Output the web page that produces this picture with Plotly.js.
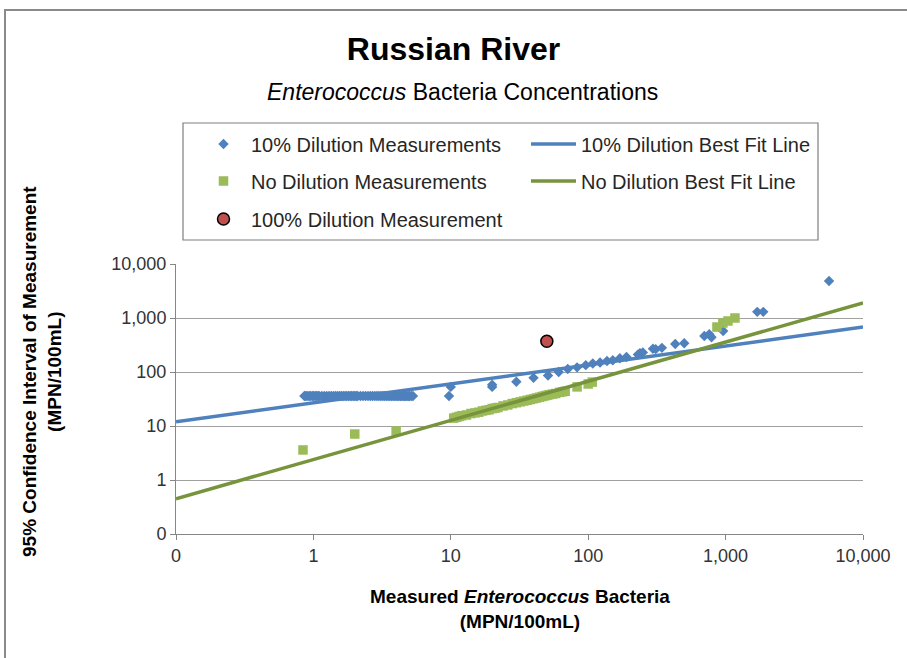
<!DOCTYPE html>
<html>
<head>
<meta charset="utf-8">
<script src="https://cdn.plot.ly/plotly-3.0.1.min.js"></script>
<style>
  html, body { margin: 0; padding: 0; background: #fff; }
  #wrap { position: relative; width: 907px; height: 658px; overflow: hidden; }
  #chart { position: absolute; left: 0; top: 0; width: 907px; height: 658px; }
  #frame { position: absolute; left: 4px; top: 9px; width: 920px; height: 680px;
           border-left: 2px solid #8a8a8a; border-top: 2px solid #8a8a8a; pointer-events: none; }
</style>
</head>
<body>
<div id="wrap"><div id="chart"></div><div id="frame"></div></div>
<script>
// ---- Data ----
const dil10X = [0.86, 0.88, 0.9, 0.93, 0.95, 0.98, 1, 1.03, 1.05, 1.08, 1.1, 1.15, 1.2, 1.25, 1.3, 1.35, 1.4, 1.45,
                1.5, 1.55, 1.6, 1.65, 1.7, 1.75, 1.8, 1.85, 1.9, 1.95, 2, 2.05, 2.1, 2.2, 2.3, 2.4, 2.5,
                2.6, 2.7, 2.8, 2.9, 3, 3.1, 3.2, 3.3, 3.4, 3.5, 3.6, 3.7, 3.8, 3.9, 4, 4.1, 4.2, 4.3,
                4.4, 4.5, 4.6, 4.7, 4.8, 4.9, 5, 5.15, 5.3,
                9.7, 10, 20, 20, 30, 40, 51, 61, 71, 83, 96, 108, 122, 137, 151, 170, 190, 230, 238, 250,
                296, 310, 344, 430, 500, 700, 760, 790, 960, 1700, 1880, 5660];
const dil10Y = [36, 36, 36, 36, 36, 36, 36, 36, 36, 36, 36, 36, 36, 36, 36, 36, 36, 36,
                36, 36, 36, 36, 36, 36, 36, 36, 36, 36, 36, 36, 36, 36, 36, 36, 36,
                36, 36, 36, 36, 36, 36, 36, 36, 36, 36, 36, 36, 36, 36, 36, 36, 36, 36,
                36, 36, 36, 36, 36, 36, 36, 36, 36,
                36, 53, 53, 58, 66, 78, 86, 100, 114, 122, 134, 144, 150, 160, 165, 180, 190, 210, 224, 230,
                270, 265, 280, 330, 340, 465, 500, 440, 575, 1300, 1300, 4840];

const noDilX = [0.84, 2, 4, 10.5, 11, 11.5, 12, 13, 14, 15, 16, 17, 18, 19, 20, 21, 22, 24, 26, 28, 30, 32, 34,
                36, 38, 40, 42, 44, 46, 48, 50, 52, 55, 58, 62, 65, 68, 83, 100, 107, 865, 955, 1040, 1170];
const noDilY = [3.6, 7.1, 8.1, 14, 14.5, 15, 15.5, 16, 17, 17.5, 18, 19, 19.5, 20, 21, 21.5, 22, 23.5, 24.5, 26,
                27, 28, 29, 30, 31, 32, 33, 34, 35, 36, 37, 38, 39, 40, 42, 43, 44, 53, 60, 65, 680, 808, 880, 1000];

const dil100X = [50];
const dil100Y = [370];

const fit10X = [0.1, 1, 10, 100, 1000, 10000];
const fit10Y = [12, 27, 60, 135, 300, 680];
const fitNoX = [0.1, 1, 10, 100, 1000, 10000];
const fitNoY = [0.45, 2.4, 12.6, 67, 355, 1900];

const tickVals = [0.1, 1, 10, 100, 1000, 10000];
const tickText = ['0', '1', '10', '100', '1,000', '10,000'];

const seriesNames = ['10% Dilution Measurements', '10% Dilution Best Fit Line',
                     'No Dilution Measurements', 'No Dilution Best Fit Line',
                     '100% Dilution Measurement'];

// ---- Styling ----
const FONT = 'Liberation Sans, Arial, sans-serif';
const blue = '#4F81BD', green = '#9BBB59', greenLine = '#77933C', red = '#C0504D';

const traces = [
  { x: dil10X, y: dil10Y, name: seriesNames[0], type: 'scatter', mode: 'markers',
    marker: { symbol: 'diamond', size: 8, color: blue }, legend: 'legend' },
  { x: fit10X, y: fit10Y, name: seriesNames[1], type: 'scatter', mode: 'lines',
    line: { color: blue, width: 3.5 }, legend: 'legend' },
  { x: noDilX, y: noDilY, name: seriesNames[2], type: 'scatter', mode: 'markers',
    marker: { symbol: 'square', size: 9.5, color: green }, legend: 'legend2' },
  { x: fitNoX, y: fitNoY, name: seriesNames[3], type: 'scatter', mode: 'lines',
    line: { color: greenLine, width: 3.5 }, legend: 'legend2' },
  { x: dil100X, y: dil100Y, name: seriesNames[4], type: 'scatter', mode: 'markers',
    marker: { symbol: 'circle', size: 12, color: red, line: { color: '#000', width: 1.5 } }, legend: 'legend3' }
];

// plot area in pixels: x 176..863, y 264..534
const L = 176, R = 863, T = 264, B = 534;
const px = v => (v - L) / (R - L);
const py = v => (B - v) / (B - T);

function legendCfg(rowY) {
  return {
    orientation: 'h', x: px(196), xanchor: 'left', y: py(rowY), yanchor: 'middle',
    bgcolor: 'rgba(0,0,0,0)', borderwidth: 0, itemwidth: 45, entrywidth: 270,
    font: { family: FONT, size: 20, color: '#262626' }, traceorder: 'normal'
  };
}

const layout = {
  width: 907, height: 658,
  margin: { l: L, r: 907 - R, t: T, b: 658 - B, autoexpand: false },
  paper_bgcolor: '#fff', plot_bgcolor: '#fff',
  showlegend: true,
  title: { text: '<b>Russian River</b>', font: { family: FONT, size: 32, color: '#000' },
           x: 0.5, xref: 'container', xanchor: 'center', y: 1 - 49 / 658, yref: 'container', yanchor: 'middle' },
  xaxis: {
    type: 'log', range: [-1, 4], tickvals: tickVals, ticktext: tickText,
    showgrid: false, zeroline: false, showline: true, linecolor: '#868686', linewidth: 1,
    ticks: 'outside', ticklen: 5, tickcolor: '#868686',
    tickfont: { family: FONT, size: 18, color: '#333' }
  },
  yaxis: {
    type: 'log', range: [-1, 4], tickvals: tickVals, ticktext: tickText,
    showgrid: true, gridcolor: '#a0a0a0', gridwidth: 1, zeroline: false,
    showline: true, linecolor: '#868686', linewidth: 1,
    ticks: 'outside', ticklen: 5, tickcolor: '#868686',
    tickfont: { family: FONT, size: 18, color: '#333' }
  },
  legend: legendCfg(144),
  legend2: legendCfg(181),
  legend3: legendCfg(219),
  shapes: [
    { type: 'rect', xref: 'paper', yref: 'paper', x0: px(183), x1: px(818), y0: py(240), y1: py(123),
      line: { color: '#7f7f7f', width: 1.2 }, fillcolor: 'rgba(0,0,0,0)' }
  ],
  annotations: [
    { text: '<i>Enterococcus</i> Bacteria Concentrations', xref: 'paper', yref: 'paper',
      x: px(462), y: py(92), xanchor: 'center', yanchor: 'middle', showarrow: false,
      font: { family: FONT, size: 23, color: '#000' } },
    { text: '<b>Measured <i>Enterococcus</i> Bacteria</b><br><b>(MPN/100mL)</b>', xref: 'paper', yref: 'paper',
      x: 0.5, y: py(609), xanchor: 'center', yanchor: 'middle', showarrow: false,
      font: { family: FONT, size: 19, color: '#000' } },
    { text: '<b>95% Confidence Interval of Measurement</b><br><b>(MPN/100mL)</b>', xref: 'paper', yref: 'paper',
      x: px(42), y: py(372), xanchor: 'center', yanchor: 'middle', showarrow: false, textangle: -90,
      font: { family: FONT, size: 19, color: '#000' } }
  ]
};

Plotly.newPlot('chart', traces, layout, { displayModeBar: false, staticPlot: true });
</script>
</body>
</html>
